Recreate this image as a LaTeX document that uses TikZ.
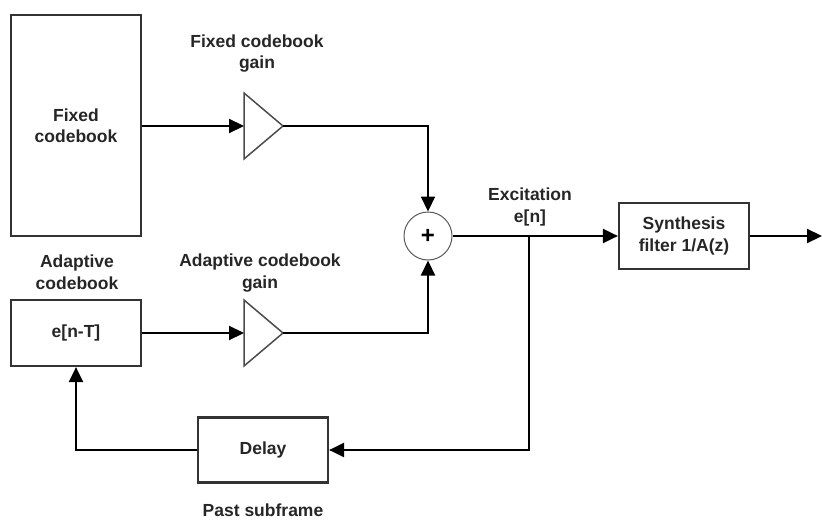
\documentclass[tikz,border=0pt]{standalone}
\usepackage{fontspec}
\setmainfont{Liberation Sans}
\usetikzlibrary{arrows.meta}
\begin{document}
\begin{tikzpicture}[x=1pt,y=-1pt,
  lbl/.style={font=\bfseries\fontsize{17.5}{21.5}\selectfont, align=center, inner sep=0pt, text=black!85},
  blk/.style={draw=black!80, line width=2.2pt, fill=white, inner sep=0pt, lbl},
  gain/.style={draw=black!70, line width=1.5pt, fill=white},
  wire/.style={draw=black, line width=2.2pt},
  arr/.style={wire, -{Triangle[length=15pt,width=14pt]}}
]
\useasboundingbox (0,0) rectangle (822,527);

% blocks
\node[blk, minimum width=130pt, minimum height=221pt] (fixed) at (76,125.5) {Fixed\\codebook};
\node[blk, minimum width=130pt, minimum height=66pt] (adapt) at (76,333) {e[n-T]};
\node[blk, minimum width=130pt, minimum height=66pt] (syn) at (684,236) {Synthesis\\filter 1/A(z)};
\node[blk, minimum width=130pt, minimum height=65pt] (delay) at (263,450) {Delay};
\node[circle, draw=black!65, line width=1pt, minimum size=48pt, inner sep=0pt,
      font=\bfseries\fontsize{24}{24}\selectfont] (sum) at (428,236) {+};

% gain amplifiers
\draw[gain] (244,93) -- (283,126) -- (244,159) -- cycle;
\coordinate (g1in) at (244,126);
\coordinate (g1out) at (283,126);
\draw[gain] (244,300) -- (283,333) -- (244,366) -- cycle;
\coordinate (g2in) at (244,333);
\coordinate (g2out) at (283,333);

% labels
\node[lbl] (lfg) at (257,53.5) {Fixed codebook\\gain};
\node[lbl] (lag) at (260,273) {Adaptive codebook\\gain};
\node[lbl] (lac) at (77,272) {Adaptive\\codebook};
\node[lbl] (lex) at (530,207) {Excitation\\e[n]};
\node[lbl] (lps) at (263,510) {Past subframe};

% signal paths
\coordinate (tap) at (529,236);
\coordinate (out) at (822,236);
\draw[arr] (fixed.east |- g1in) -- (g1in);
\draw[arr] (adapt.east) -- (g2in);
\draw[arr] (g1out) -| (sum.north);
\draw[arr] (g2out) -| (sum.south);
\draw[arr] (sum.east) -- (syn.west);
\draw[arr] (syn.east) -- (out);
\draw[arr] (tap) |- (delay.east);
\draw[arr] (delay.west) -| (adapt.south);
\end{tikzpicture}
\end{document}
